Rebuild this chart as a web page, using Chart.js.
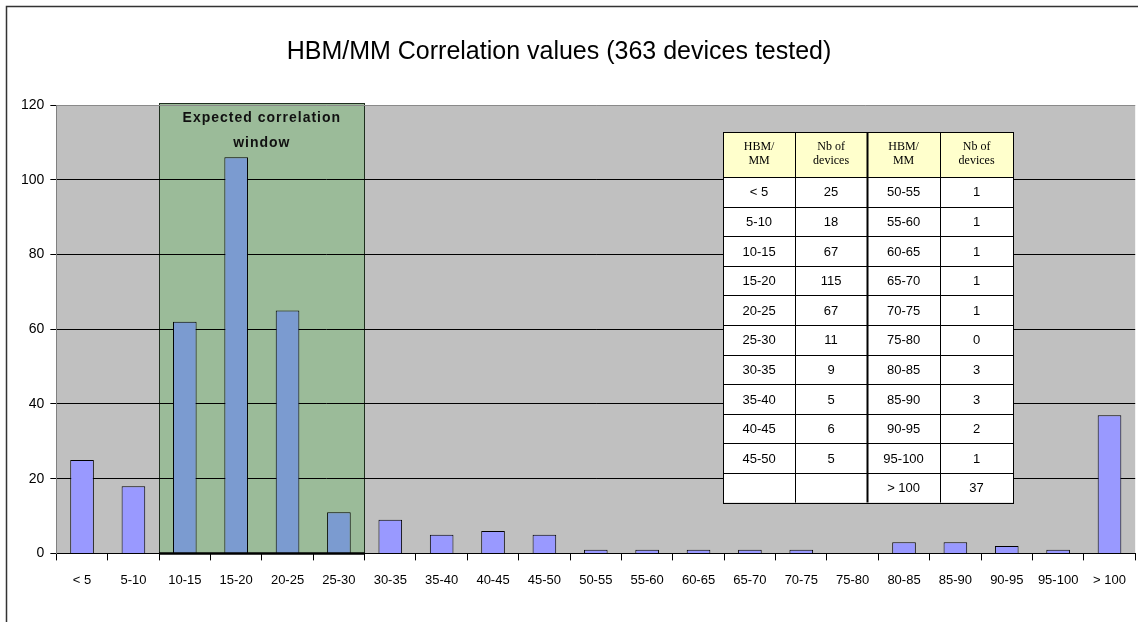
<!DOCTYPE html>
<html>
<head>
<meta charset="utf-8">
<script src="https://cdn.jsdelivr.net/npm/chart.js@4.4.1/dist/chart.umd.min.js"></script>
<style>
  html, body { margin: 0; padding: 0; background: #fff; }
</style>
</head>
<body>
<canvas id="hbmChart" width="1138" height="622"></canvas>
<script>
// histogram bins and bar heights
const categories = ['< 5', '5-10', '10-15', '15-20', '20-25', '25-30', '30-35', '35-40', '40-45', '45-50',
    '50-55', '55-60', '60-65', '65-70', '70-75', '75-80', '80-85', '85-90', '90-95', '95-100', '> 100'];
const deviceCounts = [25, 18, 62, 106, 65, 11, 9, 5, 6, 5, 1, 1, 1, 1, 1, 0, 3, 3, 2, 1, 37];

const chartTitle = 'HBM/MM Correlation values (363 devices tested)';

// the shaded "expected" window
const windowRange = ['10-15', '25-30'];
const windowLabel = ['Expected correlation', 'window'];

// the inset table
const tableHeaders = [['HBM/', 'MM'], ['Nb of', 'devices']];
const tableBinsLeft = ['< 5', '5-10', '10-15', '15-20', '20-25', '25-30', '30-35', '35-40', '40-45', '45-50', ''];
const tableCountsLeft = ['25', '18', '67', '115', '67', '11', '9', '5', '6', '5', ''];
const tableBinsRight = ['50-55', '55-60', '60-65', '65-70', '70-75', '75-80', '80-85', '85-90', '90-95', '95-100', '> 100'];
const tableCountsRight = ['1', '1', '1', '1', '1', '0', '3', '3', '2', '1', '37'];

const SANS = '"Liberation Sans", Arial, sans-serif';
const SERIF = '"Liberation Serif", "Times New Roman", serif';

const winStart = categories.indexOf(windowRange[0]);
const winEnd = categories.indexOf(windowRange[1]);
const barColors = categories.map((c, i) => (i >= winStart && i <= winEnd) ? '#7b9bd0' : '#9999ff');

function windowBox(chart) {
    const x = chart.scales.x, y = chart.scales.y;
    const half = (x.getPixelForValue(1) - x.getPixelForValue(0)) / 2;
    return {
        left: x.getPixelForValue(winStart) - half,
        right: x.getPixelForValue(winEnd) + half,
        top: y.getPixelForValue(y.max) - 2,
        bottom: y.getPixelForValue(0)
    };
}

const backdrop = {
    id: 'backdrop',
    beforeDraw(chart) {
        const ctx = chart.ctx, a = chart.chartArea;
        ctx.save();
        ctx.fillStyle = '#c0c0c0';
        ctx.fillRect(a.left, a.top, a.right - a.left, a.bottom - a.top);
        const b = windowBox(chart);
        ctx.fillStyle = '#9bbb99';
        ctx.fillRect(b.left, b.top, b.right - b.left, b.bottom - b.top);
        ctx.strokeStyle = '#1e2e1e';
        ctx.lineWidth = 1;
        ctx.strokeRect(Math.round(b.left) + 0.5, Math.round(b.top) + 0.5, Math.round(b.right - b.left), Math.round(b.bottom - b.top));
        ctx.restore();
    },
    afterDraw(chart) {
        const ctx = chart.ctx, a = chart.chartArea;
        const b = windowBox(chart);
        ctx.save();

        // title, a little left of centre like the original
        ctx.fillStyle = '#000';
        ctx.font = '25px ' + SANS;
        ctx.textAlign = 'center';
        ctx.textBaseline = 'middle';
        ctx.fillText(chartTitle, 559, 52);

        // thick base of the window
        ctx.strokeStyle = '#000';
        ctx.lineWidth = 2.5;
        ctx.beginPath();
        ctx.moveTo(b.left, b.bottom);
        ctx.lineTo(b.right, b.bottom);
        ctx.stroke();

        // window caption
        ctx.fillStyle = '#111';
        ctx.font = 'bold 14px ' + SANS;
        ctx.letterSpacing = '1px';
        ctx.textAlign = 'center';
        ctx.textBaseline = 'middle';
        windowLabel.forEach((line, i) => {
            ctx.fillText(line, (b.left + b.right) / 2, b.top + 15 + i * 25);
        });
        ctx.letterSpacing = '0px';

        // inset table
        const colW = [72, 72, 73, 73];
        const headH = 45, rowH = 29.6;
        const tLeft = a.left + 0.618 * (a.right - a.left);
        const tTop = a.top + 27;
        const rows = tableBinsLeft.length;
        const tW = colW.reduce((s, v) => s + v, 0);
        const tH = headH + rows * rowH;
        const colX = [tLeft];
        colW.forEach(w => colX.push(colX[colX.length - 1] + w));

        ctx.fillStyle = '#ffffff';
        ctx.fillRect(tLeft, tTop, tW, tH);
        ctx.fillStyle = '#ffffcc';
        ctx.fillRect(tLeft, tTop, tW, headH);

        ctx.strokeStyle = '#000';
        ctx.lineWidth = 1;
        for (let r = 0; r <= rows; r++) {
            const yy = Math.round(tTop + headH + r * rowH) + 0.5;
            ctx.beginPath();
            ctx.moveTo(tLeft, yy);
            ctx.lineTo(tLeft + tW, yy);
            ctx.stroke();
        }
        colX.forEach((cx, i) => {
            ctx.lineWidth = (i === 2) ? 2 : 1;
            ctx.beginPath();
            ctx.moveTo(Math.round(cx) + 0.5, tTop);
            ctx.lineTo(Math.round(cx) + 0.5, tTop + tH);
            ctx.stroke();
        });
        ctx.lineWidth = 1;
        ctx.strokeRect(Math.round(tLeft) + 0.5, Math.round(tTop) + 0.5, tW, Math.round(tH));

        ctx.fillStyle = '#000';
        ctx.textAlign = 'center';
        ctx.textBaseline = 'middle';
        ctx.font = '12px ' + SERIF;
        for (let c = 0; c < 4; c++) {
            const lines = tableHeaders[c % 2];
            const cx = (colX[c] + colX[c + 1]) / 2;
            lines.forEach((ln, i) => ctx.fillText(ln, cx, tTop + 15 + i * 14));
        }
        ctx.font = '13px ' + SANS;
        const cols = [tableBinsLeft, tableCountsLeft, tableBinsRight, tableCountsRight];
        cols.forEach((col, c) => {
            const cx = (colX[c] + colX[c + 1]) / 2;
            col.forEach((txt, r) => {
                ctx.fillText(txt, cx, tTop + headH + r * rowH + rowH / 2 + 1);
            });
        });

        // outer frame of the picture
        ctx.strokeStyle = '#333';
        ctx.lineWidth = 1.5;
        ctx.strokeRect(6.5, 6.5, chart.width + 40, chart.height + 40);
        ctx.restore();
    }
};

const ctx = document.getElementById('hbmChart').getContext('2d');
const hbmChart = new Chart(ctx, {
    type: 'bar',
    data: {
        labels: categories,
        datasets: [{
            label: 'Nb of devices',
            data: deviceCounts,
            backgroundColor: barColors,
            borderColor: '#000',
            borderWidth: 1,
            barPercentage: 0.46,
            categoryPercentage: 1
        }]
    },
    options: {
        responsive: false,
        animation: false,
        layout: { padding: { left: 15, right: 2, top: 105, bottom: 22 } },
        plugins: {
            legend: { display: false },
            tooltip: { enabled: false },
            title: { display: false }
        },
        scales: {
            x: {
                offset: true,
                grid: {
                    offset: true,
                    drawOnChartArea: false,
                    drawTicks: true,
                    tickLength: 7,
                    tickColor: '#000'
                },
                border: { color: '#000', width: 1 },
                ticks: {
                    color: '#000',
                    font: { family: SANS, size: 13 },
                    padding: 12,
                    maxRotation: 0,
                    autoSkip: false
                }
            },
            y: {
                min: 0,
                max: 120,
                ticks: {
                    stepSize: 20,
                    color: '#000',
                    font: { family: SANS, size: 14 },
                    padding: 6
                },
                grid: {
                    color: c => c.tick.value === 120 ? '#8a8a8a' : '#000',
                    tickColor: '#000',
                    tickLength: 6
                },
                border: { color: '#808080', width: 1 }
            }
        }
    },
    plugins: [backdrop]
});
</script>
</body>
</html>
